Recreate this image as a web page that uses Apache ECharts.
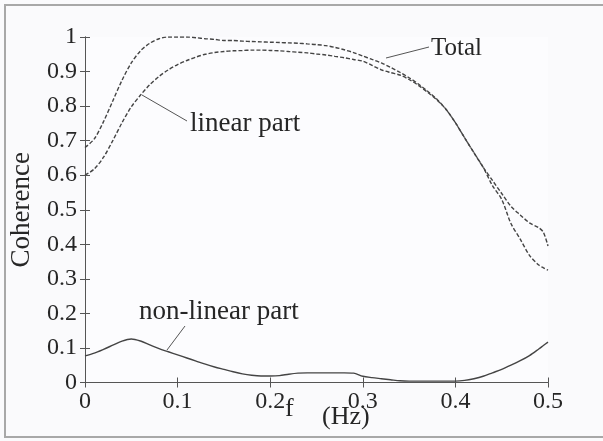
<!DOCTYPE html>
<html>
<head>
<meta charset="utf-8">
<script src="https://cdn.jsdelivr.net/npm/echarts@6/dist/echarts.min.js"></script>
<style>html,body{margin:0;padding:0;background:#fafafc;}#c{width:603px;height:441px;}</style>
</head>
<body>
<div id="c"></div>
<script>
var freq = [0,0.01,0.02,0.03,0.04,0.05,0.06,0.07,0.08,0.09,0.10,0.11,0.12,0.13,0.14,0.15,0.16,0.17,0.18,0.19,0.20,0.21,0.22,0.23,0.24,0.25,0.26,0.27,0.28,0.29,0.30,0.31,0.32,0.33,0.34,0.35,0.36,0.37,0.38,0.39,0.40,0.41,0.42,0.43,0.44,0.45,0.46,0.47,0.48,0.49,0.495,0.50];
var total = [0.68,0.705,0.755,0.815,0.875,0.925,0.96,0.982,0.995,1.0,1.0,1.0,0.998,0.995,0.993,0.99,0.99,0.988,0.987,0.986,0.985,0.984,0.983,0.982,0.98,0.978,0.975,0.97,0.963,0.955,0.945,0.935,0.925,0.912,0.898,0.882,0.864,0.843,0.82,0.79,0.752,0.708,0.665,0.623,0.585,0.547,0.51,0.485,0.462,0.448,0.435,0.395];
var linear = [0.60,0.618,0.652,0.70,0.752,0.798,0.832,0.862,0.886,0.905,0.92,0.932,0.942,0.95,0.955,0.958,0.96,0.961,0.962,0.962,0.961,0.96,0.958,0.956,0.954,0.951,0.948,0.944,0.94,0.935,0.93,0.918,0.905,0.897,0.89,0.877,0.86,0.84,0.818,0.79,0.752,0.708,0.665,0.623,0.57,0.53,0.46,0.415,0.368,0.34,0.332,0.325];
var nonlinear = [0.077,0.085,0.096,0.108,0.12,0.126,0.12,0.109,0.098,0.089,0.08,0.071,0.062,0.053,0.045,0.038,0.031,0.025,0.021,0.019,0.019,0.02,0.024,0.027,0.028,0.028,0.028,0.028,0.028,0.027,0.018,0.014,0.011,0.008,0.005,0.004,0.004,0.004,0.004,0.004,0.004,0.006,0.011,0.018,0.028,0.038,0.05,0.063,0.078,0.097,0.107,0.117];
var xTicks = ['0','0.1','0.2','0.3','0.4','0.5'];
var yTicks = ['0','0.1','0.2','0.3','0.4','0.5','0.6','0.7','0.8','0.9','1'];

function pairs(ys){ return freq.map(function(f,i){ return [f, ys[i]]; }); }

var FONT = 'Liberation Serif';
var TXT = '#262626';
var chart = echarts.init(document.getElementById('c'), null, {renderer:'canvas'});
var axisLine = {show:true, lineStyle:{color:'#555', width:1}};
var tick = {show:true, inside:true, length:5, lineStyle:{color:'#555'}};
function label(x, y, text, size){
  return {type:'text', style:{x:x, y:y, text:text, fontFamily:FONT, fontSize:size, fill:TXT, verticalAlign:'middle', align:'left'}};
}
var option = {
  backgroundColor:'#fafafc',
  animation:false,
  grid:{left:83, right:55, top:37, bottom:58.5, show:true, backgroundColor:'#fcfcfe', borderWidth:0},
  xAxis:[
    {type:'value', min:0, max:0.5, interval:0.1, position:'bottom',
     axisLine:axisLine, axisTick:tick, splitLine:{show:false},
     axisLabel:{color:TXT, fontFamily:FONT, fontSize:24, margin:7,
       formatter:function(v){ return xTicks[Math.round(v*10)]; }}},
    {type:'value', min:0, max:0.5, interval:0.1, position:'top',
     axisLine:axisLine, axisTick:tick, splitLine:{show:false}, axisLabel:{show:false}}
  ],
  yAxis:[
    {type:'value', min:0, max:1, interval:0.1, position:'left',
     axisLine:axisLine, axisTick:tick, splitLine:{show:false},
     name:'Coherence', nameLocation:'middle', nameGap:50, nameRotate:90,
     nameTextStyle:{color:TXT, fontFamily:FONT, fontSize:27},
     axisLabel:{color:TXT, fontFamily:FONT, fontSize:24, margin:8,
       formatter:function(v){ return yTicks[Math.round(v*10)]; }}},
    {type:'value', min:0, max:1, interval:0.1, position:'right',
     axisLine:axisLine, axisTick:tick, splitLine:{show:false}, axisLabel:{show:false}}
  ],
  series:[
    {name:'Total', type:'line', data:pairs(total), showSymbol:false, smooth:0.3,
     lineStyle:{color:'#444', width:1.4, type:[4,2]}},
    {name:'linear part', type:'line', data:pairs(linear), showSymbol:false, smooth:0.3,
     lineStyle:{color:'#444', width:1.4, type:[4,2]}},
    {name:'non-linear part', type:'line', data:pairs(nonlinear), showSymbol:false, smooth:0.3,
     lineStyle:{color:'#444', width:1.4}}
  ],
  graphic:[
    {type:'rect', shape:{x:5, y:5, width:620, height:432}, silent:true, z:-10,
     style:{fill:'none', stroke:'#a8a8a8', lineWidth:2}},
    label(431, 48, 'Total', 25),
    {type:'line', shape:{x1:429, y1:47, x2:386, y2:58}, style:{stroke:'#555', lineWidth:1}},
    label(190, 124, 'linear part', 27),
    {type:'line', shape:{x1:187, y1:121, x2:142, y2:95}, style:{stroke:'#555', lineWidth:1}},
    label(139, 312, 'non-linear part', 27),
    {type:'line', shape:{x1:185, y1:326, x2:167, y2:350}, style:{stroke:'#555', lineWidth:1}},
    label(285, 409, 'f', 26),
    label(322, 417, '(Hz)', 26)
  ]
};
chart.setOption(option);
</script>
</body>
</html>
